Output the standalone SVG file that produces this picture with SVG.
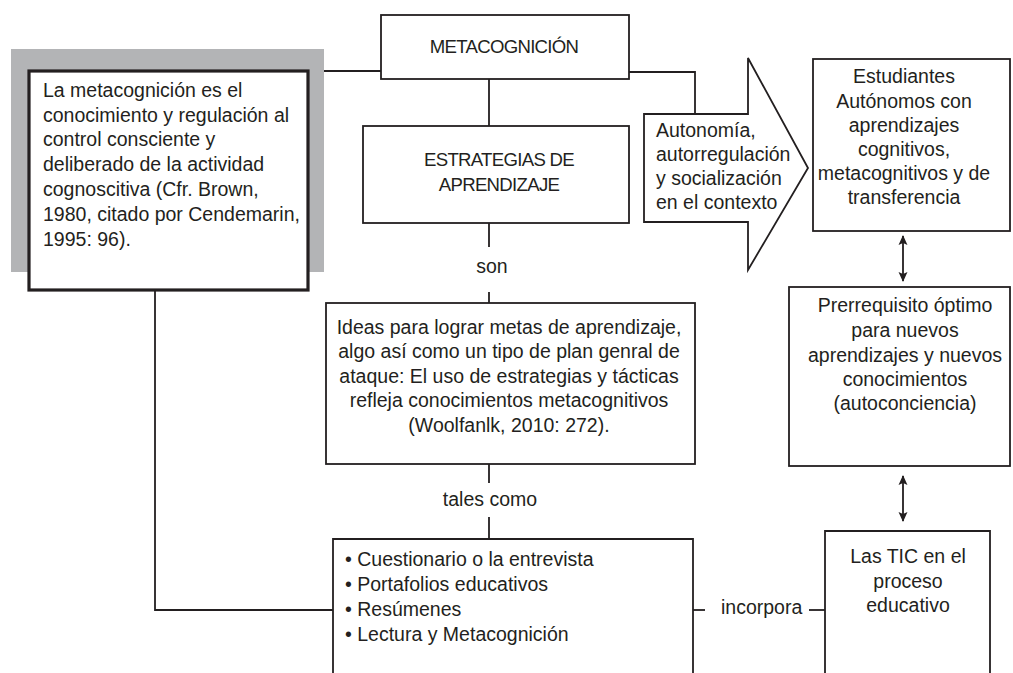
<svg xmlns="http://www.w3.org/2000/svg" width="1013" height="673" viewBox="0 0 1013 673">
<style>
.box{fill:#fff;stroke:#231f20;stroke-width:1.8}
.ln{fill:none;stroke:#231f20;stroke-width:1.8}
.t{font-family:"Liberation Sans",Arial,sans-serif;font-size:19.5px;fill:#231f20}
.cap{font-size:18.6px;letter-spacing:-0.7px}
.c{text-anchor:middle}
</style>
<defs>
<marker id="ah" viewBox="0 0 10 10" refX="9" refY="5" markerWidth="5.5" markerHeight="5.5" orient="auto-start-reverse" markerUnits="strokeWidth">
<path d="M0,0.5 L10,5 L0,9.5 L2,5 Z" fill="#231f20"/>
</marker>
</defs>
<rect width="1013" height="673" fill="#fff"/>
<g id="connectors">
<path class="ln" d="M324,71 H381"/>
<path class="ln" d="M629,72 H695 V114"/>
<path class="ln" d="M489,79 V126"/>
<path class="ln" d="M489,223 V247"/>
<path class="ln" d="M489,292 V303"/>
<path class="ln" d="M489,464 V483"/>
<path class="ln" d="M489,517 V539"/>
<path class="ln" d="M155,290 V610 H333"/>
<path class="ln" d="M693,610 H705"/>
<path class="ln" d="M809,610 H825"/>
<path class="ln" d="M903,236 V281" marker-start="url(#ah)" marker-end="url(#ah)"/>
<path class="ln" d="M903,476 V521" marker-start="url(#ah)" marker-end="url(#ah)"/>
<text class="t c" x="492" y="273">son</text>
<text class="t c" x="490" y="506">tales como</text>
<text class="t" x="721" y="614">incorpora</text>
</g>
<g id="definicion">
<rect x="11" y="49" width="313" height="223" fill="#b3b4b6"/>
<rect x="29" y="71" width="279" height="219" fill="#fff" stroke="#231f20" stroke-width="3.2"/>
<text class="t" x="43" y="97">La metacognición es el</text>
<text class="t" x="43" y="122">conocimiento y regulación al</text>
<text class="t" x="43" y="146">control consciente y</text>
<text class="t" x="43" y="171">deliberado de la actividad</text>
<text class="t" x="43" y="196">cognoscitiva (Cfr. Brown,</text>
<text class="t" x="43" y="221">1980, citado por Cendemarin,</text>
<text class="t" x="43" y="246">1995: 96).</text>
</g>
<g id="metacognicion">
<rect class="box" x="381" y="15" width="248" height="64"/>
<text class="t cap c" x="504" y="53">METACOGNICIÓN</text>
</g>
<g id="estrategias">
<rect class="box" x="363" y="126" width="266" height="97"/>
<text class="t cap c" x="499" y="166">ESTRATEGIAS DE</text>
<text class="t cap c" x="499" y="191">APRENDIZAJE</text>
</g>
<g id="autonomia">
<path class="box" d="M644,114 H748 V58 L808,168 L748,270 V222 H644 Z"/>
<text class="t" x="656" y="137">Autonomía,</text>
<text class="t" x="656" y="161">autorregulación</text>
<text class="t" x="656" y="185">y socialización</text>
<text class="t" x="656" y="209">en el contexto</text>
</g>
<g id="estudiantes">
<rect class="box" x="813" y="59" width="197" height="172"/>
<text class="t c" x="904" y="83">Estudiantes</text>
<text class="t c" x="904" y="108">Autónomos con</text>
<text class="t c" x="904" y="132">aprendizajes</text>
<text class="t c" x="904" y="156">cognitivos,</text>
<text class="t c" x="904" y="180">metacognitivos y de</text>
<text class="t c" x="904" y="204">transferencia</text>
</g>
<g id="ideas">
<rect class="box" x="326" y="303" width="369" height="161"/>
<text class="t c" x="509" y="334">Ideas para lograr metas de aprendizaje,</text>
<text class="t c" x="509" y="358">algo así como un tipo de plan genral de</text>
<text class="t c" x="509" y="383">ataque: El uso de estrategias y tácticas</text>
<text class="t c" x="509" y="407">refleja conocimientos metacognitivos</text>
<text class="t c" x="509" y="432">(Woolfanlk, 2010: 272).</text>
</g>
<g id="prerrequisito">
<rect class="box" x="789" y="287" width="221" height="179"/>
<text class="t c" x="905" y="312">Prerrequisito óptimo</text>
<text class="t c" x="905" y="337">para nuevos</text>
<text class="t c" x="905" y="362">aprendizajes y nuevos</text>
<text class="t c" x="905" y="386">conocimientos</text>
<text class="t c" x="905" y="410">(autoconciencia)</text>
</g>
<g id="lista">
<path class="box" d="M333,680 V539 H693 V680"/>
<text class="t" x="345" y="566">• Cuestionario o la entrevista</text>
<text class="t" x="345" y="591">• Portafolios educativos</text>
<text class="t" x="345" y="616">• Resúmenes</text>
<text class="t" x="345" y="641">• Lectura y Metacognición</text>
</g>
<g id="tic">
<path class="box" d="M825,680 V531 H990 V680"/>
<text class="t c" x="908" y="563">Las TIC en el</text>
<text class="t c" x="908" y="588">proceso</text>
<text class="t c" x="908" y="612">educativo</text>
</g>
</svg>
